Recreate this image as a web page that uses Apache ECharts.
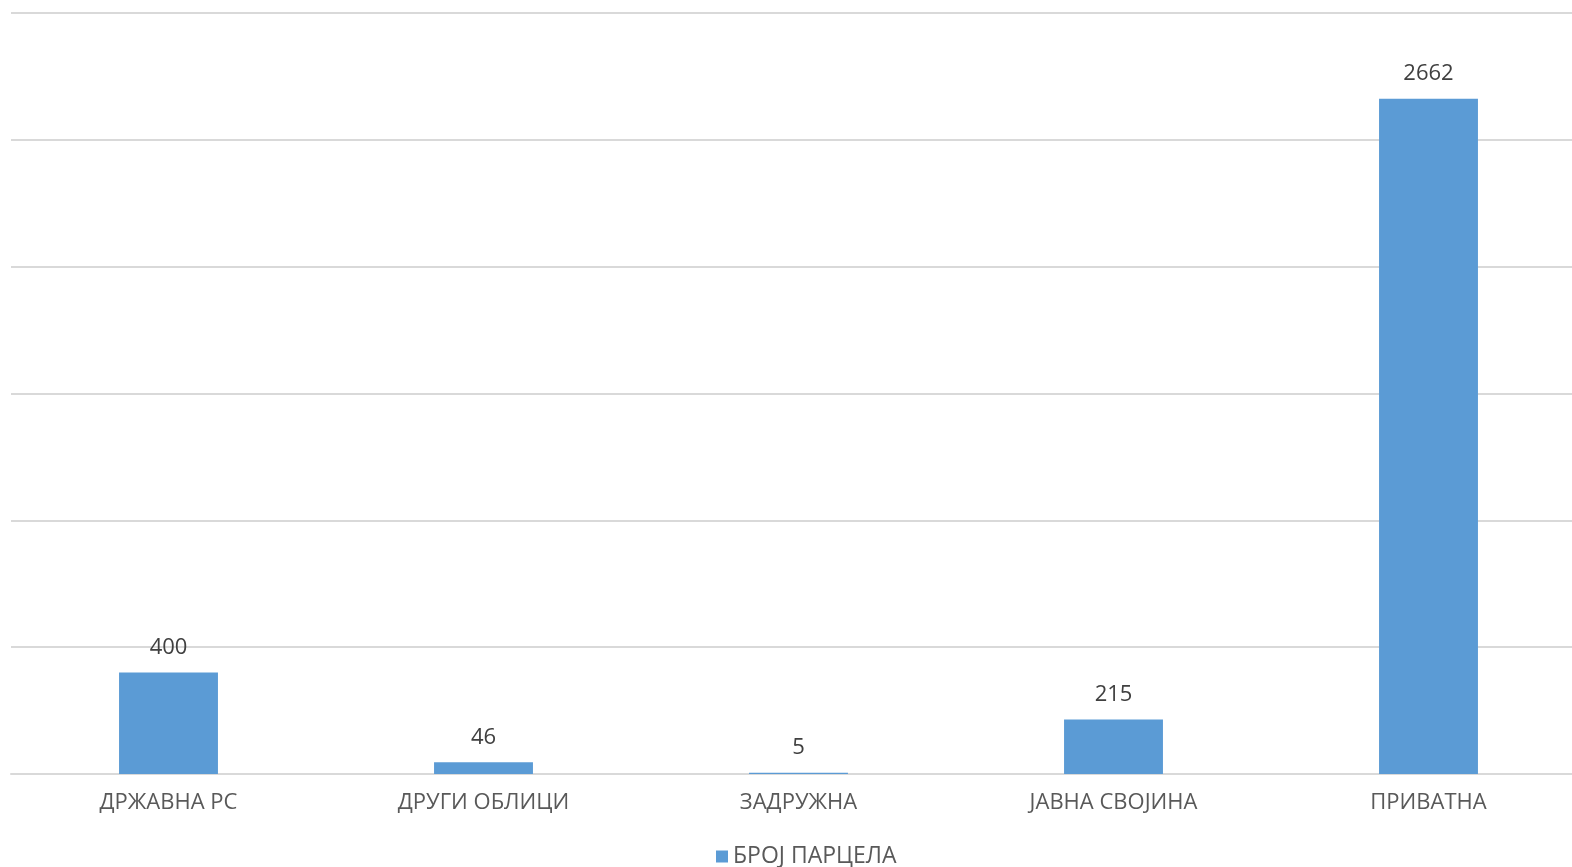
<!DOCTYPE html>
<html><head><meta charset="utf-8">
<script src="https://cdn.jsdelivr.net/npm/echarts@6/dist/echarts.min.js"></script>
<style>html,body{margin:0;padding:0;background:#fff;overflow:hidden}#c{width:1590px;height:867px}</style>
</head><body><div id="c"></div>
<script>
const categories = ['ДРЖАВНА РС', 'ДРУГИ ОБЛИЦИ', 'ЗАДРУЖНА', 'ЈАВНА СВОЈИНА', 'ПРИВАТНА'];
const seriesName = 'БРОЈ ПАРЦЕЛА';
const values = [400, 46, 5, 215, 2662];

const FF = 'Open Sans';
const chart = echarts.init(document.getElementById('c'));
chart.setOption({
  animation: false,
  textStyle: { fontFamily: FF },
  grid: { left: 11, right: 4, top: 13, bottom: 93, containLabel: false },
  legend: {
    bottom: -6, left: 711, itemWidth: 12, itemHeight: 12, itemGap: 5,
    icon: 'rect',
    textStyle: { fontSize: 23, color: '#595959', fontFamily: FF },
    data: [seriesName]
  },
  xAxis: {
    type: 'category', data: categories,
    axisLine: { lineStyle: { color: '#d9d9d9', width: 2 } },
    axisTick: { show: false },
    axisLabel: { color: '#595959', fontSize: 22, margin: 18, fontFamily: FF }
  },
  yAxis: {
    type: 'value', min: 0, max: 3000, interval: 500,
    axisLabel: { show: false }, axisLine: { show: false }, axisTick: { show: false },
    splitLine: { lineStyle: { color: '#d9d9d9', width: 2 } }
  },
  series: [{
    name: seriesName, type: 'bar', data: values, barWidth: '31.4%',
    itemStyle: { color: '#5b9bd5' },
    label: { show: true, position: 'top', distance: 14, color: '#404040', fontSize: 22, fontFamily: FF }
  }]
});
</script></body></html>
